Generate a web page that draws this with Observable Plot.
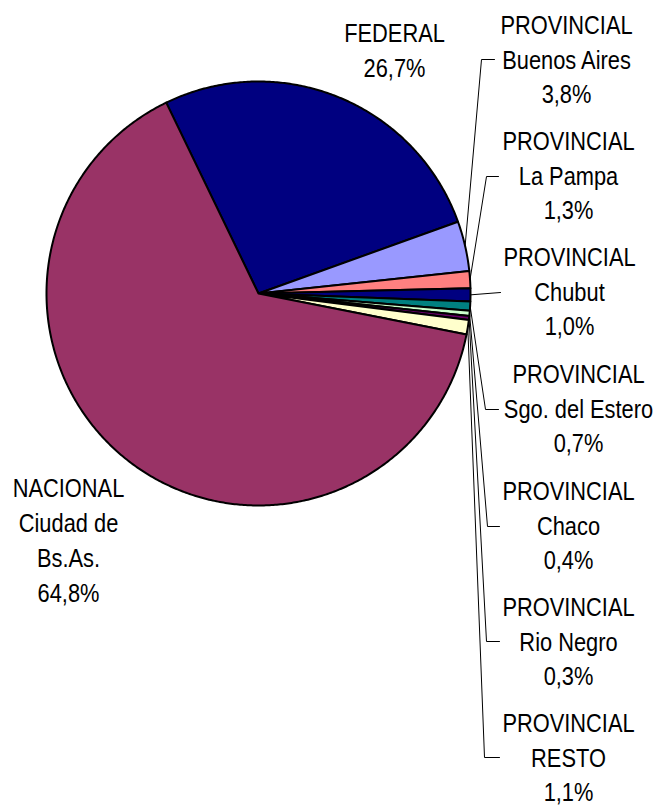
<!DOCTYPE html>
<html>
<head>
<meta charset="utf-8">
<script src="https://cdn.jsdelivr.net/npm/d3@7"></script>
<script src="https://cdn.jsdelivr.net/npm/@observablehq/plot@0.6"></script>
<style>
  html, body { margin: 0; padding: 0; background: #fff; }
  #chart svg { display: block; }
</style>
</head>
<body>
<div id="chart"></div>
<script>
// ---- data ----
const categories = ["FEDERAL", "PROVINCIAL\nBuenos Aires", "PROVINCIAL\nLa Pampa", "PROVINCIAL\nChubut",
  "PROVINCIAL\nSgo. del Estero", "PROVINCIAL\nChaco", "PROVINCIAL\nRio Negro", "PROVINCIAL\nRESTO",
  "NACIONAL\nCiudad de\nBs.As."];
const values = [26.7, 3.8, 1.3, 1.0, 0.7, 0.4, 0.3, 1.1, 64.8];
const colors = ["#000080", "#9999FF", "#FF8080", "#000080", "#008080", "#CCFFCC", "#660066", "#FFFFCC", "#993366"];

// ---- layout ----
const W = 658, H = 806;
const cx = 258, cy = 293, R = 212;
const startDeg = -25.8;
const labelPos = [[394, 48], [566, 57], [568, 173], [569, 289], [578, 406], [568, 523], [568, 639], [568, 755], [68, 538]];
// leader line elbows (null = no leader)
const elbows = [null, [[481, 59], [494, 59]], [[486, 176], [498, 176]], [[500, 292]], [[485, 409], [498, 409]],
  [[487, 526], [499, 526]], [[486, 641], [499, 641]], [[484, 757], [499, 757]], null];
const narrow = 0.84;

const total = d3.sum(values);
const fmt = v => v.toFixed(1).replace(".", ",") + "%";
const rad = d => d * Math.PI / 180;
const pt = (a, r) => [cx + r * Math.sin(a), cy - r * Math.cos(a)];

let acc = 0;
const slices = values.map((v, i) => {
  const a0 = rad(startDeg) + acc / total * 2 * Math.PI;
  acc += v;
  const a1 = rad(startDeg) + acc / total * 2 * Math.PI;
  const n = Math.max(2, Math.ceil((a1 - a0) / rad(0.5)));
  const ring = [[cx, cy]];
  for (let k = 0; k <= n; k++) ring.push(pt(a0 + (a1 - a0) * k / n, R));
  ring.push([cx, cy]);
  return {i, a0, a1, mid: (a0 + a1) / 2, color: colors[i],
    geom: {type: "Polygon", coordinates: [ring]}};
});

const labels = categories.map((c, i) => ({x: labelPos[i][0], y: labelPos[i][1], text: c + "\n" + fmt(values[i])}));

const leaders = [];
slices.forEach((s, i) => {
  if (!elbows[i]) return;
  leaders.push({id: i, x: pt(s.mid, R)[0], y: pt(s.mid, R)[1]});
  elbows[i].forEach(p => leaders.push({id: i, x: p[0], y: p[1]}));
});

const chart = Plot.plot({
  width: W, height: H, margin: 0,
  projection: {type: "identity", domain: {type: "MultiPoint", coordinates: [[0, 0], [W, H]]}},
  color: {type: "identity"},
  marks: [
    Plot.geo(slices, {geometry: "geom", fill: "color", stroke: "#000", strokeWidth: 2, strokeLinejoin: "round"}),
    Plot.line(leaders, {x: "x", y: "y", z: "id", stroke: "#000", strokeWidth: 1, curve: "linear"}),
    Plot.text(labels, {x: "x", y: "y", text: "text", textAnchor: "middle", lineAnchor: "middle",
      fontSize: 26, lineHeight: 1.34, fill: "#000",
      fontFamily: "'Liberation Sans', Arial, sans-serif"})
  ]
});
// condense the label glyphs horizontally (Arial Narrow look)
chart.querySelectorAll("text").forEach(t => {
  const tr = t.getAttribute("transform");
  if (tr) t.setAttribute("transform", tr + ` scale(${narrow},1)`);
});
document.getElementById("chart").appendChild(chart);
</script>
</body>
</html>
